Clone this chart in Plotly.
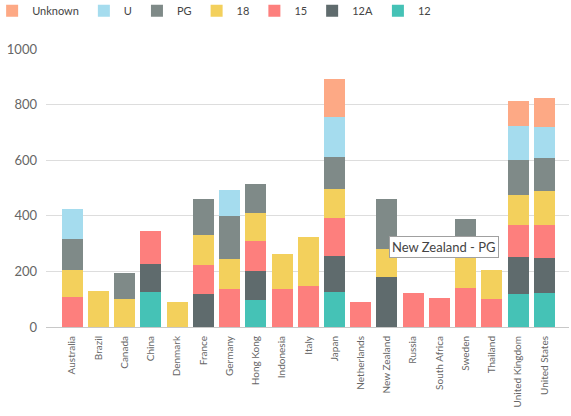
import plotly.graph_objects as go

countries = ["Australia", "Brazil", "Canada", "China", "Denmark", "France", "Germany",
             "Hong Kong", "Indonesia", "Italy", "Japan", "Netherlands", "New Zealand",
             "Russia", "South Africa", "Sweden", "Thailand", "United Kingdom", "United States"]

N = None
r12      = [N, N, N, 125, N, N, N, 96, N, N, 125, N, N, N, N, N, N, 118, 121]
r12A     = [N, N, N, 101, N, 118, N, 105, N, N, 130, N, 179, N, N, N, N, 133, 127]
r15      = [108, N, N, 119, N, 104, 136, 108, 136, 147, 137, 89, N, 121, 103, 140, 99, 115, 118]
r18      = [97, 130, 101, N, 90, 110, 108, 101, 126, 176, 104, N, 101, N, N, 136, 105, 108, 123]
rPG      = [111, N, 94, N, N, 128, 155, 104, N, N, 115, N, 180, N, N, 112, N, 126, 119]
rU       = [108, N, N, N, N, N, 94, N, N, N, 144, N, N, N, N, N, N, 123, 112]
rUnknown = [N, N, N, N, N, N, N, N, N, N, 138, N, N, N, N, N, N, 90, 104]

series = [
    ("12", r12, "#45C2B6"),
    ("12A", r12A, "#5F6B6D"),
    ("15", r15, "#FD7F7D"),
    ("18", r18, "#F3D05C"),
    ("PG", rPG, "#7F8A88"),
    ("U", rU, "#A5DCEE"),
    ("Unknown", rUnknown, "#FDA985"),
]

fig = go.Figure()
for name, vals, col in series:
    fig.add_trace(go.Bar(x=list(range(len(countries))), y=vals, name=name,
                         marker=dict(color=col, line=dict(width=0)),
                         hoverinfo="skip"))

font = "Segoe UI, Lato, Open Sans, sans-serif"
fig.update_layout(
    width=571, height=416,
    barmode="stack", bargap=0.2,
    paper_bgcolor="white", plot_bgcolor="white",
    margin=dict(l=46, r=2, t=49, b=89, autoexpand=False),
    font=dict(family=font, color="#666666", size=12),
    showlegend=True,
    legend=dict(orientation="h", x=-0.103, xref="paper", xanchor="left",
                y=1.19, yref="paper", yanchor="top", traceorder="reversed",
                font=dict(size=11, color="#444444"),
                itemwidth=30, tracegroupgap=0),
    xaxis=dict(tickmode="array", tickvals=list(range(len(countries))), ticktext=countries,
               tickangle=-90, range=[-1.0, 18.94], showgrid=False, zeroline=False,
               showline=False, ticks="", tickfont=dict(size=10, color="#666666"),
               ticklabelstandoff=6),
    yaxis=dict(range=[0, 1000], tickvals=[0, 200, 400, 600, 800, 1000],
               showgrid=True, gridcolor="#DDDDDD", gridwidth=1, zeroline=True,
               zerolinecolor="#C8C8C8", zerolinewidth=1, showline=False, ticks="",
               tickfont=dict(size=13, color="#666666"), ticklabelstandoff=8),
    annotations=[dict(text="New Zealand - PG", xref="paper", yref="paper",
                      x=0.761, y=0.286, xanchor="center", yanchor="middle",
                      showarrow=False, bgcolor="white", bordercolor="#A0A0A0",
                      borderwidth=1, borderpad=2,
                      font=dict(size=13, color="#444444", family=font))],
)

fig.write_html("out.html",
               config={"displayModeBar": False},
               post_script="document.body.style.margin='0';")
